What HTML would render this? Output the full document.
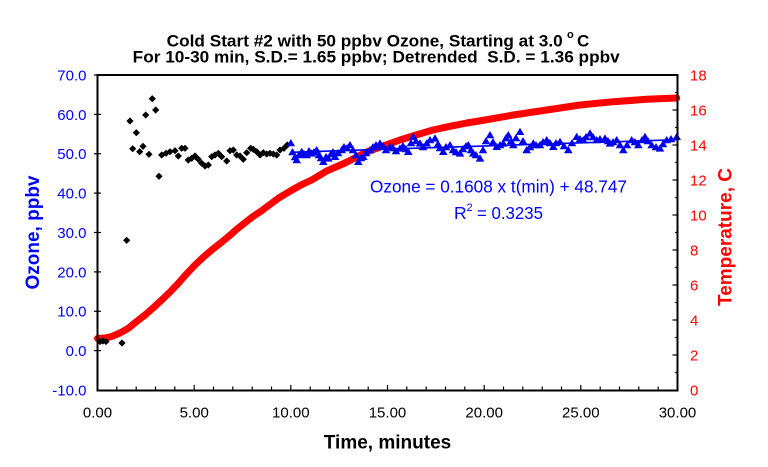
<!DOCTYPE html>
<html><head><meta charset="utf-8"><style>
html,body{margin:0;padding:0;background:#fff;}
svg{display:block;}
text{font-family:"Liberation Sans",Arial,sans-serif;}
</style></head><body>
<svg width="768" height="467" viewBox="0 0 768 467" xmlns="http://www.w3.org/2000/svg">
<defs>
<marker id="dia" markerUnits="userSpaceOnUse" markerWidth="10" markerHeight="10" viewBox="-5 -5 10 10" refX="0" refY="0" overflow="visible"><path d="M0,-3.6 L3.6,0 L0,3.6 L-3.6,0Z" fill="#000"/></marker>
<marker id="tri" markerUnits="userSpaceOnUse" markerWidth="12" markerHeight="12" viewBox="-6 -6 12 12" refX="0" refY="0" overflow="visible"><path d="M0,-4 L4.3,3.3 L-4.3,3.3Z" fill="#0000ee"/></marker>
</defs>
<rect width="768" height="467" fill="#fff"/>

<!-- Title -->
<text x="166.7" y="46.5" font-size="17" font-weight="bold" textLength="396" lengthAdjust="spacingAndGlyphs">Cold Start #2 with 50 ppbv Ozone, Starting at 3.0</text>
<text x="567" y="38" font-size="11" font-weight="bold">o</text>
<text x="577" y="46.5" font-size="17" font-weight="bold">C</text>
<text x="132.7" y="62.3" font-size="17" font-weight="bold" textLength="487" lengthAdjust="spacingAndGlyphs" xml:space="preserve">For 10-30 min, S.D.= 1.65 ppbv; Detrended  S.D. = 1.36 ppbv</text>

<!-- Red temperature curve -->
<polyline fill="none" stroke="#ff0000" stroke-width="7" stroke-linejoin="round" stroke-linecap="round"
points="97.5,338.5 105,338 111.7,336.5 120,333 128.3,328.3 136,322 145,315 153,308 161.7,300 170,292 178.3,283.3 186,274.5 195,265 203,257.5 211.7,250 220,243.5 228.3,236.7 236.5,229.5 245,222.7 253,216.5 261.7,210.7 270,204.5 278.3,198.3 287,193 295,188.3 303,184 311.7,180 326.7,171 345,163 366.7,152 383,146 400,140 416,135 433,130 450,126.3 466.7,123 485,120 513.3,115 546.7,110 580,105 613.3,101.7 646.7,99.3 676.7,98"/>

<!-- Black diamonds -->
<polyline fill="none" stroke="none" marker-start="url(#dia)" marker-mid="url(#dia)" marker-end="url(#dia)"
points="100,341.5 103,341 106,341.5 122,343 126.7,240.3 130,121 132.7,148.7 136.3,132.7 139.7,151.7 143,146.3 145.7,115 149,154.3 152.3,98.7 155.7,110 159,176.3 161.7,155 166,153.3 170,151.7 175,150.7 178.3,156 181.7,148.3 185,148.3 188.3,160 191.7,158.3 195,156 198.3,159.3 201.7,163.3 205,166 208.3,165 211.7,156.7 215,155 218.3,153.3 221.7,156.7 226.7,161 230,150.7 233.3,150 236.7,155 240,156 243.3,159.3 246.7,152.7 250.7,148.3 253.3,149.3 256.7,151.7 260,155 263.3,152.7 266.7,154 270,153.3 273.3,154 276.7,155 280,150 284,148.3 287.3,145"/>

<!-- Regression line -->
<line x1="290.8" y1="152.3" x2="677.5" y2="139.7" stroke="#0000ff" stroke-width="1.6"/>

<!-- Blue triangles -->
<polyline fill="none" stroke="none" marker-start="url(#tri)" marker-mid="url(#tri)" marker-end="url(#tri)"
points="290.8,143 292.5,152 295,157 296.7,160 299,155 301.7,151.7 304,154 306.7,155 309,151 311.7,153.3 314,152 316.7,150 319,155 321,158 323.3,161.7 326,157 328.3,158.3 331,154 333,152 335,156.7 338,153 341.7,150 344,147 347,148 350,145 353,150 356,155 358.3,161.7 361,158 363.3,156.7 366,153 370,150 373,147 376,145 380,143.3 383,146 386,150 390,146.7 393,148 396,151 400,148.3 403,146 406,149 408.3,151.7 411,143 413.3,136.7 416,141 420,143.3 423,147 426.7,143.3 430,140 435,138.3 438,144 440,148 443.3,151.7 446,147 450,145 453,150 456,152 460,153.3 463,149 466,146 468.3,145 471,150 473.3,153.3 476,155 480,158.3 483,150 486,141 490,135 493,142 496.7,146.7 500,145 503.3,143.3 506,138 508.3,135 511,141 513.3,145 516,138 520,131.7 523,141 526.7,150 530,147 533.3,143.3 536,145 540,145 543,142 546.7,140 550,143 553.3,146.7 556,143 560,141.7 564,146 568.3,150 572,143 576.7,136.7 580,139 583.3,140 586,137 590,133.3 593,137 596.7,140 600,139 605,138.3 608,141 610,143.3 613,142 616.7,140 620,145 623.3,150 627,145 631.7,140 635,142 638.3,145 642,140 645,136.7 648,141 651.7,145 656,147 660,148.3 663,144 666.7,140 671,139 676.7,136.7"/>

<!-- Plot frame -->
<rect x="97.5" y="75" width="580" height="315.5" fill="none" stroke="#000" stroke-width="2"/>

<!-- Left ticks -->
<g stroke="#000" stroke-width="1.2">
<line x1="94" y1="75" x2="101" y2="75"/>
<line x1="94" y1="114.4" x2="101" y2="114.4"/>
<line x1="94" y1="153.75" x2="101" y2="153.75"/>
<line x1="94" y1="193.1" x2="101" y2="193.1"/>
<line x1="94" y1="232.5" x2="101" y2="232.5"/>
<line x1="94" y1="271.9" x2="101" y2="271.9"/>
<line x1="94" y1="311.25" x2="101" y2="311.25"/>
<line x1="94" y1="350.6" x2="101" y2="350.6"/>
</g>
<!-- Right ticks -->
<g stroke="#000" stroke-width="1.2">
<line x1="672.5" y1="355" x2="677.5" y2="355"/>
<line x1="675" y1="372.5" x2="677.5" y2="372.5"/>
<line x1="672.5" y1="320" x2="677.5" y2="320"/>
<line x1="675" y1="337.5" x2="677.5" y2="337.5"/>
<line x1="672.5" y1="285" x2="677.5" y2="285"/>
<line x1="675" y1="302.5" x2="677.5" y2="302.5"/>
<line x1="672.5" y1="250" x2="677.5" y2="250"/>
<line x1="675" y1="267.5" x2="677.5" y2="267.5"/>
<line x1="672.5" y1="215" x2="677.5" y2="215"/>
<line x1="675" y1="232.5" x2="677.5" y2="232.5"/>
<line x1="672.5" y1="180" x2="677.5" y2="180"/>
<line x1="675" y1="197.5" x2="677.5" y2="197.5"/>
<line x1="672.5" y1="145" x2="677.5" y2="145"/>
<line x1="675" y1="162.5" x2="677.5" y2="162.5"/>
<line x1="672.5" y1="110" x2="677.5" y2="110"/>
<line x1="675" y1="127.5" x2="677.5" y2="127.5"/>
<line x1="675" y1="92.5" x2="677.5" y2="92.5"/>
</g>
<!-- Bottom ticks -->
<g stroke="#000" stroke-width="1.2">
<line x1="116.8" y1="386.5" x2="116.8" y2="390"/><line x1="136.2" y1="386.5" x2="136.2" y2="390"/><line x1="155.5" y1="386.5" x2="155.5" y2="390"/><line x1="174.8" y1="386.5" x2="174.8" y2="390"/>
<line x1="194.2" y1="385" x2="194.2" y2="390"/>
<line x1="213.5" y1="386.5" x2="213.5" y2="390"/><line x1="232.8" y1="386.5" x2="232.8" y2="390"/><line x1="252.2" y1="386.5" x2="252.2" y2="390"/><line x1="271.5" y1="386.5" x2="271.5" y2="390"/>
<line x1="290.8" y1="385" x2="290.8" y2="390"/>
<line x1="310.2" y1="386.5" x2="310.2" y2="390"/><line x1="329.5" y1="386.5" x2="329.5" y2="390"/><line x1="348.8" y1="386.5" x2="348.8" y2="390"/><line x1="368.2" y1="386.5" x2="368.2" y2="390"/>
<line x1="387.5" y1="385" x2="387.5" y2="390"/>
<line x1="406.8" y1="386.5" x2="406.8" y2="390"/><line x1="426.2" y1="386.5" x2="426.2" y2="390"/><line x1="445.5" y1="386.5" x2="445.5" y2="390"/><line x1="464.8" y1="386.5" x2="464.8" y2="390"/>
<line x1="484.2" y1="385" x2="484.2" y2="390"/>
<line x1="503.5" y1="386.5" x2="503.5" y2="390"/><line x1="522.8" y1="386.5" x2="522.8" y2="390"/><line x1="542.2" y1="386.5" x2="542.2" y2="390"/><line x1="561.5" y1="386.5" x2="561.5" y2="390"/>
<line x1="580.8" y1="385" x2="580.8" y2="390"/>
<line x1="600.2" y1="386.5" x2="600.2" y2="390"/><line x1="619.5" y1="386.5" x2="619.5" y2="390"/><line x1="638.8" y1="386.5" x2="638.8" y2="390"/><line x1="658.2" y1="386.5" x2="658.2" y2="390"/>
</g>

<!-- Left labels -->
<g font-size="15" fill="#0000ff" text-anchor="end">
<text x="86.5" y="80.5">70.0</text>
<text x="86.5" y="119.9">60.0</text>
<text x="86.5" y="159.2">50.0</text>
<text x="86.5" y="198.6">40.0</text>
<text x="86.5" y="238">30.0</text>
<text x="86.5" y="277.4">20.0</text>
<text x="86.5" y="316.7">10.0</text>
<text x="86.5" y="356.1">0.0</text>
<text x="86.5" y="395.5">-10.0</text>
</g>
<!-- Right labels -->
<g font-size="15" fill="#ff0000">
<text x="690" y="395.5">0</text>
<text x="690" y="360.5">2</text>
<text x="690" y="325.5">4</text>
<text x="690" y="290.5">6</text>
<text x="690" y="255.5">8</text>
<text x="690" y="220.5">10</text>
<text x="690" y="185.5">12</text>
<text x="690" y="150.5">14</text>
<text x="690" y="115.5">16</text>
<text x="690" y="80.5">18</text>
</g>
<!-- Bottom labels -->
<g font-size="15" fill="#000" text-anchor="middle">
<text x="97.5" y="417.5">0.00</text>
<text x="194.2" y="417.5">5.00</text>
<text x="290.8" y="417.5">10.00</text>
<text x="387.5" y="417.5">15.00</text>
<text x="484.2" y="417.5">20.00</text>
<text x="580.8" y="417.5">25.00</text>
<text x="677.5" y="417.5">30.00</text>
</g>

<!-- Axis titles -->
<text x="387.5" y="448.5" font-size="19" font-weight="bold" text-anchor="middle">Time, minutes</text>
<text transform="translate(39,232.5) rotate(-90)" font-size="19" font-weight="bold" fill="#0000ff" text-anchor="middle">Ozone, ppbv</text>
<text transform="translate(731.5,237) rotate(-90)" font-size="19" font-weight="bold" fill="#ff0000" text-anchor="middle">Temperature, C</text>

<!-- Annotation -->
<text x="370" y="192.3" font-size="17.5" fill="#0000ff" textLength="257" lengthAdjust="spacingAndGlyphs">Ozone = 0.1608 x t(min) + 48.747</text>
<text x="454" y="219" font-size="17.5" fill="#0000ff">R</text>
<text x="466.5" y="211" font-size="11" fill="#0000ff">2</text>
<text x="477" y="219" font-size="17.5" fill="#0000ff" textLength="66" lengthAdjust="spacingAndGlyphs">= 0.3235</text>
</svg>
</body></html>
